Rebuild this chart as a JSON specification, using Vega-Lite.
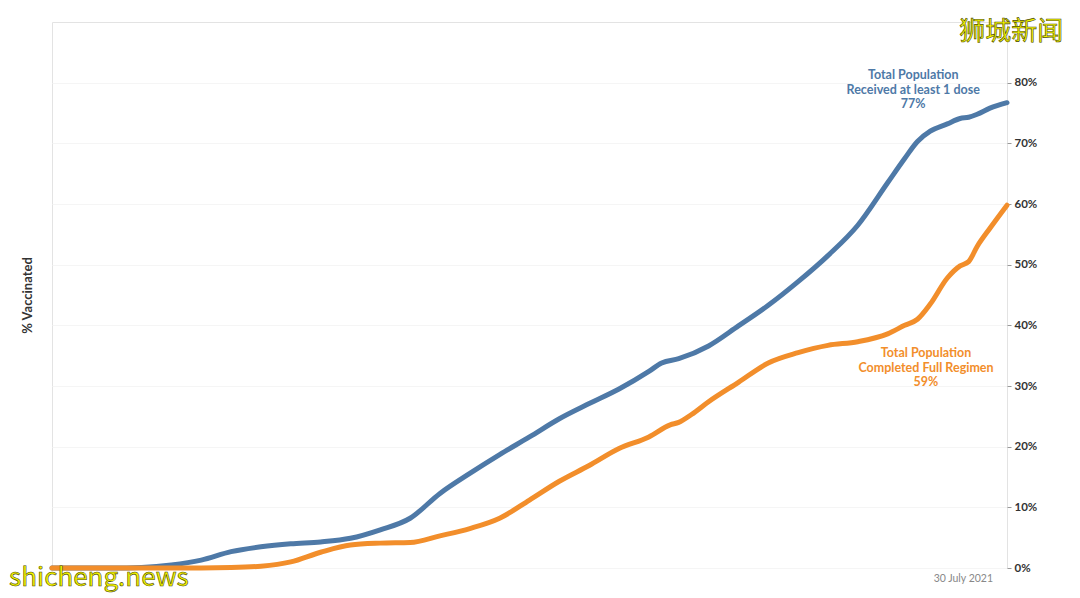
{
  "$schema": "https://vega.github.io/schema/vega-lite/v6.json",
  "width": 955,
  "height": 546,
  "autosize": {"type": "none"},
  "padding": {"left": 52, "top": 22, "right": 73, "bottom": 30},
  "background": "white",
  "config": {
    "font": "Lato",
    "view": {"stroke": "#e3e3e3", "strokeWidth": 1}
  },
  "datasets": {
    "series": [
      {"date": "2020-12-30", "series": "dose1", "value": 0.0},
      {"date": "2021-01-06", "series": "dose1", "value": 0.0},
      {"date": "2021-01-13", "series": "dose1", "value": 0.0},
      {"date": "2021-01-20", "series": "dose1", "value": 0.001},
      {"date": "2021-01-27", "series": "dose1", "value": 0.005},
      {"date": "2021-02-03", "series": "dose1", "value": 0.013},
      {"date": "2021-02-10", "series": "dose1", "value": 0.027},
      {"date": "2021-02-17", "series": "dose1", "value": 0.035},
      {"date": "2021-02-24", "series": "dose1", "value": 0.040},
      {"date": "2021-03-03", "series": "dose1", "value": 0.043},
      {"date": "2021-03-10", "series": "dose1", "value": 0.049},
      {"date": "2021-03-17", "series": "dose1", "value": 0.063},
      {"date": "2021-03-24", "series": "dose1", "value": 0.082},
      {"date": "2021-03-31", "series": "dose1", "value": 0.123},
      {"date": "2021-04-07", "series": "dose1", "value": 0.156},
      {"date": "2021-04-14", "series": "dose1", "value": 0.187},
      {"date": "2021-04-21", "series": "dose1", "value": 0.216},
      {"date": "2021-04-28", "series": "dose1", "value": 0.246},
      {"date": "2021-05-05", "series": "dose1", "value": 0.271},
      {"date": "2021-05-12", "series": "dose1", "value": 0.295},
      {"date": "2021-05-19", "series": "dose1", "value": 0.324},
      {"date": "2021-05-22", "series": "dose1", "value": 0.338},
      {"date": "2021-05-26", "series": "dose1", "value": 0.345},
      {"date": "2021-06-02", "series": "dose1", "value": 0.366},
      {"date": "2021-06-09", "series": "dose1", "value": 0.399},
      {"date": "2021-06-16", "series": "dose1", "value": 0.433},
      {"date": "2021-06-23", "series": "dose1", "value": 0.472},
      {"date": "2021-06-30", "series": "dose1", "value": 0.515},
      {"date": "2021-07-07", "series": "dose1", "value": 0.565},
      {"date": "2021-07-14", "series": "dose1", "value": 0.635},
      {"date": "2021-07-18", "series": "dose1", "value": 0.675},
      {"date": "2021-07-21", "series": "dose1", "value": 0.703},
      {"date": "2021-07-24", "series": "dose1", "value": 0.720},
      {"date": "2021-07-28", "series": "dose1", "value": 0.732},
      {"date": "2021-07-31", "series": "dose1", "value": 0.741},
      {"date": "2021-08-02", "series": "dose1", "value": 0.743},
      {"date": "2021-08-04", "series": "dose1", "value": 0.748},
      {"date": "2021-08-07", "series": "dose1", "value": 0.758},
      {"date": "2021-08-11", "series": "dose1", "value": 0.767},
      {"date": "2020-12-30", "series": "full", "value": 0.0},
      {"date": "2021-01-13", "series": "full", "value": 0.0},
      {"date": "2021-01-27", "series": "full", "value": 0.0},
      {"date": "2021-02-10", "series": "full", "value": 0.001},
      {"date": "2021-02-17", "series": "full", "value": 0.003},
      {"date": "2021-02-24", "series": "full", "value": 0.010},
      {"date": "2021-03-03", "series": "full", "value": 0.026},
      {"date": "2021-03-10", "series": "full", "value": 0.038},
      {"date": "2021-03-17", "series": "full", "value": 0.041},
      {"date": "2021-03-24", "series": "full", "value": 0.042},
      {"date": "2021-03-31", "series": "full", "value": 0.053},
      {"date": "2021-04-07", "series": "full", "value": 0.065},
      {"date": "2021-04-14", "series": "full", "value": 0.082},
      {"date": "2021-04-21", "series": "full", "value": 0.112},
      {"date": "2021-04-28", "series": "full", "value": 0.143},
      {"date": "2021-05-05", "series": "full", "value": 0.169},
      {"date": "2021-05-12", "series": "full", "value": 0.197},
      {"date": "2021-05-19", "series": "full", "value": 0.216},
      {"date": "2021-05-24", "series": "full", "value": 0.236},
      {"date": "2021-05-26", "series": "full", "value": 0.240},
      {"date": "2021-05-29", "series": "full", "value": 0.253},
      {"date": "2021-06-02", "series": "full", "value": 0.274},
      {"date": "2021-06-09", "series": "full", "value": 0.306},
      {"date": "2021-06-16", "series": "full", "value": 0.338},
      {"date": "2021-06-23", "series": "full", "value": 0.355},
      {"date": "2021-06-30", "series": "full", "value": 0.367},
      {"date": "2021-07-07", "series": "full", "value": 0.373},
      {"date": "2021-07-14", "series": "full", "value": 0.386},
      {"date": "2021-07-18", "series": "full", "value": 0.400},
      {"date": "2021-07-21", "series": "full", "value": 0.410},
      {"date": "2021-07-24", "series": "full", "value": 0.435},
      {"date": "2021-07-28", "series": "full", "value": 0.478},
      {"date": "2021-07-31", "series": "full", "value": 0.498},
      {"date": "2021-08-02", "series": "full", "value": 0.505},
      {"date": "2021-08-04", "series": "full", "value": 0.530},
      {"date": "2021-08-07", "series": "full", "value": 0.560},
      {"date": "2021-08-11", "series": "full", "value": 0.598}
    ],
    "labels": [
      {"date": "2021-07-20", "value": 0.812, "series": "dose1", "text": ["Total Population", "Received at least 1 dose", "77%"]},
      {"date": "2021-07-23", "value": 0.354, "series": "full", "text": ["Total Population", "Completed Full Regimen", "59%"]}
    ],
    "marks": [
      {"date": "2021-08-12", "value": 0.884, "text": "狮城新闻"},
      {"date": "2021-01-10", "value": -0.016, "text": "shicheng.news"}
    ]
  },
  "resolve": {"axis": {"y": "independent"}},
  "layer": [
    {
      "data": {"name": "series"},
      "mark": {"type": "line", "strokeWidth": 5, "strokeCap": "round", "strokeJoin": "round", "interpolate": "monotone"},
      "encoding": {
        "x": {
          "field": "date", "type": "temporal",
          "scale": {"type": "utc", "domain": [{"year": 2020, "month": 12, "date": 30, "utc": true}, {"year": 2021, "month": 8, "date": 11, "utc": true}]},
          "axis": {
            "title": null, "grid": false, "ticks": false, "domain": false,
            "values": [{"year": 2021, "month": 7, "date": 30, "utc": true}],
            "format": "%-d %B %Y", "labelColor": "#888888", "labelFontSize": 10.5, "labelPadding": 5, "labelOffset": 7
          }
        },
        "y": {
          "field": "value", "type": "quantitative",
          "scale": {"domain": [0, 0.9], "nice": false},
          "axis": {
            "orient": "right", "title": null, "format": ".0%",
            "values": [0, 0.1, 0.2, 0.3, 0.4, 0.5, 0.6, 0.7, 0.8],
            "grid": true, "gridColor": "#f5f5f5", "domain": false,
            "ticks": true, "tickSize": 4, "tickColor": "#999999",
            "labelFontWeight": "bold", "labelFontSize": 11.5, "labelColor": "#333333", "labelPadding": 3
          }
        },
        "color": {
          "field": "series", "type": "nominal",
          "scale": {"domain": ["dose1", "full"], "range": ["#4e79a7", "#f28e2b"]},
          "legend": null
        }
      }
    },
    {
      "data": {"name": "labels"},
      "mark": {"type": "text", "fontSize": 12.5, "fontWeight": "bold", "lineHeight": 14.5, "align": "center", "baseline": "middle"},
      "encoding": {
        "x": {"field": "date", "type": "temporal"},
        "y": {
          "field": "value", "type": "quantitative",
          "axis": {
            "orient": "left", "title": "% Vaccinated", "labels": false, "ticks": false, "domain": false, "grid": false,
            "titleFontWeight": "bold", "titleFontSize": 13, "titleColor": "#333333", "titlePadding": 18
          }
        },
        "text": {"field": "text"},
        "color": {
          "field": "series", "type": "nominal",
          "scale": {"domain": ["dose1", "full"], "range": ["#5b80b3", "#f39a45"]},
          "legend": null
        }
      }
    },
    {
      "data": {"name": "marks"},
      "mark": {"type": "text", "fontSize": 26, "font": "Noto Sans CJK SC", "fill": "#f5f500", "stroke": "#4a4a00", "strokeWidth": 0.6, "align": "center", "baseline": "middle", "clip": false},
      "encoding": {
        "x": {"field": "date", "type": "temporal"},
        "y": {"field": "value", "type": "quantitative", "axis": null},
        "text": {"field": "text"}
      }
    }
  ]
}
